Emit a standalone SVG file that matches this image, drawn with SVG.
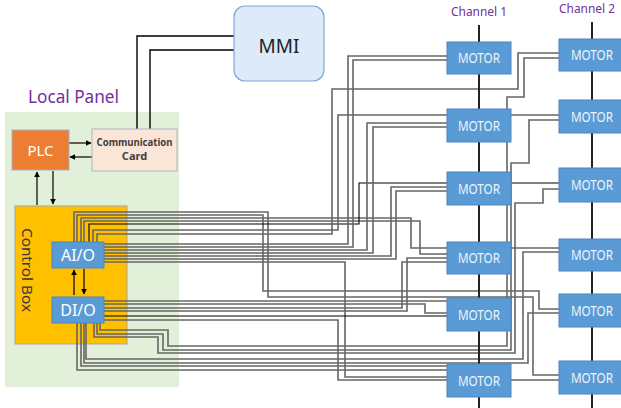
<svg xmlns="http://www.w3.org/2000/svg" width="621" height="408" viewBox="0 0 621 408">
<style>
.w{fill:none;stroke:#666;stroke-width:1.6}
.wb{fill:none;stroke:#000;stroke-width:1.1}
.k{fill:none;stroke:#000;stroke-width:1.4}
.a{fill:none;stroke:#000;stroke-width:1.2;marker-end:url(#ah)}
.mot rect{fill:#5b9bd5;stroke:#4a86c0;stroke-width:1}
.mot text{font-family:"Noto Sans",sans-serif;font-size:14px;fill:#eef4fb;text-anchor:middle}
.io rect{fill:#5b9bd5;stroke:#4a86c0;stroke-width:1}
.io text{font-family:"Noto Sans",sans-serif;font-size:16px;fill:#fff;text-anchor:middle}
.ttl{font-family:"Noto Sans",sans-serif;fill:#7030a0}
</style>
<defs>
<marker id="ah" viewBox="0 0 10 10" refX="9" refY="5" markerWidth="6" markerHeight="6" orient="auto" markerUnits="userSpaceOnUse"><path d="M0,0 L10,5 L0,10 z" fill="#000"/></marker>
</defs>
<rect width="621" height="408" fill="#fff"/>
<g id="local-panel">
<rect x="5" y="112" width="174" height="275" fill="#e2efd9"/>
<text class="ttl" x="28" y="103" font-size="18" textLength="91" lengthAdjust="spacingAndGlyphs">Local Panel</text>
</g>
<g id="control-box">
<rect x="15" y="206" width="112" height="138" fill="#ffc000" stroke="#a5a5a5" stroke-width="1"/>
<text transform="translate(22,270) rotate(90)" font-family="Noto Sans, sans-serif" font-size="15" fill="#3a3a3a" text-anchor="middle" textLength="84" lengthAdjust="spacingAndGlyphs">Control Box</text>
</g>
<g id="connectors">
<path class="k" d="M137 129 V36 H234"/>
<path class="k" d="M150 129 V50 H234"/>
<path class="a" d="M69 143 H91"/>
<path class="a" d="M92 157 H70"/>
<path class="a" d="M37 205 V172"/>
<path class="a" d="M53 171 V204"/>
<path class="a" d="M74 295 V270"/>
<path class="a" d="M84 269 V294"/>
<path class="w" d="M74 242 V212 H268 V297 H533 V375 H559"/>
<path class="w" d="M77 242 V215 H263 V291 H539 V309 H559"/>
<path class="w" d="M81 242 V218 H411 V248 H559"/>
<path class="w" d="M84 242 V221 H420 V254 H447"/>
<path class="wb" d="M89 242 V224 H359 V183 H559"/>
<path class="w" d="M93 242 V230 H338 V115 H559"/>
<path class="w" d="M97 242 V234 H332 V89 H518 V53 H559"/>
<path class="w" d="M104 244 H348 V56 H447"/>
<path class="w" d="M104 247 H353 V60 H447"/>
<path class="w" d="M104 250 H367 V123 H447"/>
<path class="w" d="M104 253 H373 V127 H447"/>
<path class="w" d="M104 256 H391 V187 H447"/>
<path class="w" d="M104 259 H396 V191 H447"/>
<path class="w" d="M104 262 H345 V377 H447"/>
<path class="w" d="M104 301 H447"/>
<path class="w" d="M104 304 H425 V313 H447"/>
<path class="w" d="M104 308 H402 V262 H447"/>
<path class="w" d="M104 311 H407 V258 H447"/>
<path class="wb" d="M104 316 H447"/>
<path class="w" d="M104 320 H338 V380 H559"/>
<path class="w" d="M100 323 V330 H168 V346 H507 V97 H524 V58 H559"/>
<path class="w" d="M97 323 V334 H163 V350 H511 V163 H529 V120 H559"/>
<path class="w" d="M94 323 V337 H158 V353 H515 V203 H543 V189 H559"/>
<path class="w" d="M86 323 V359 H523 V252 H559"/>
<path class="w" d="M84 323 V363 H528 V313 H559"/>
<path class="w" d="M81 323 V366 H447"/>
<path class="w" d="M77 323 V370 H447"/>
<path d="M479 25 V408" stroke="#222" stroke-width="2"/>
<path d="M592 22 V408" stroke="#222" stroke-width="2"/>
</g>
<g id="plc">
<rect x="12" y="130" width="57" height="40" fill="#ed7d31" stroke="#9fb3cf" stroke-width="1"/>
<text x="40.5" y="156" font-family="Noto Sans, sans-serif" font-size="15" fill="#fff" text-anchor="middle">PLC</text>
</g>
<g id="comm-card">
<rect x="92" y="129" width="85" height="42" fill="#fbe5d6" stroke="#a9b8c8" stroke-width="1"/>
<text x="134.5" y="146" font-family="Noto Sans, sans-serif" font-size="11" font-weight="bold" fill="#404040" text-anchor="middle" textLength="76" lengthAdjust="spacingAndGlyphs">Communication</text>
<text x="134.5" y="160" font-family="Noto Sans, sans-serif" font-size="11" font-weight="bold" fill="#404040" text-anchor="middle">Card</text>
</g>
<g id="mmi">
<rect x="234" y="6" width="90" height="75" rx="11" fill="#dcebf7" stroke="#7da7d9" stroke-width="1.2"/>
<text x="279" y="53" font-family="Noto Sans, sans-serif" font-size="19" fill="#222" text-anchor="middle">MMI</text>
</g>
<g id="aio" class="io">
<rect x="52" y="242" width="52" height="26"/>
<text x="78" y="261">AI/O</text>
</g>
<g id="dio" class="io">
<rect x="52" y="297" width="52" height="26"/>
<text x="78" y="316">DI/O</text>
</g>
<text class="ttl" x="479" y="16" font-size="13" text-anchor="middle" textLength="56" lengthAdjust="spacingAndGlyphs">Channel 1</text>
<text class="ttl" x="587" y="13" font-size="13" text-anchor="middle" textLength="56" lengthAdjust="spacingAndGlyphs">Channel 2</text>
<g id="motor-1-1" class="mot"><rect x="447" y="42" width="64" height="32"/><text x="479" y="63" textLength="42" lengthAdjust="spacingAndGlyphs">MOTOR</text></g>
<g id="motor-1-2" class="mot"><rect x="447" y="109" width="64" height="33"/><text x="479" y="131" textLength="42" lengthAdjust="spacingAndGlyphs">MOTOR</text></g>
<g id="motor-1-3" class="mot"><rect x="447" y="172" width="64" height="33"/><text x="479" y="194" textLength="42" lengthAdjust="spacingAndGlyphs">MOTOR</text></g>
<g id="motor-1-4" class="mot"><rect x="447" y="242" width="64" height="32"/><text x="479" y="263" textLength="42" lengthAdjust="spacingAndGlyphs">MOTOR</text></g>
<g id="motor-1-5" class="mot"><rect x="447" y="298" width="64" height="33"/><text x="479" y="320" textLength="42" lengthAdjust="spacingAndGlyphs">MOTOR</text></g>
<g id="motor-1-6" class="mot"><rect x="447" y="364" width="64" height="33"/><text x="479" y="386" textLength="42" lengthAdjust="spacingAndGlyphs">MOTOR</text></g>
<g id="motor-2-1" class="mot"><rect x="559" y="39" width="64" height="32"/><text x="592" y="60" textLength="42" lengthAdjust="spacingAndGlyphs">MOTOR</text></g>
<g id="motor-2-2" class="mot"><rect x="559" y="100" width="64" height="33"/><text x="592" y="122" textLength="42" lengthAdjust="spacingAndGlyphs">MOTOR</text></g>
<g id="motor-2-3" class="mot"><rect x="559" y="168" width="64" height="34"/><text x="592" y="190" textLength="42" lengthAdjust="spacingAndGlyphs">MOTOR</text></g>
<g id="motor-2-4" class="mot"><rect x="559" y="239" width="64" height="32"/><text x="592" y="260" textLength="42" lengthAdjust="spacingAndGlyphs">MOTOR</text></g>
<g id="motor-2-5" class="mot"><rect x="559" y="294" width="64" height="33"/><text x="592" y="316" textLength="42" lengthAdjust="spacingAndGlyphs">MOTOR</text></g>
<g id="motor-2-6" class="mot"><rect x="559" y="361" width="64" height="33"/><text x="592" y="383" textLength="42" lengthAdjust="spacingAndGlyphs">MOTOR</text></g>
</svg>
